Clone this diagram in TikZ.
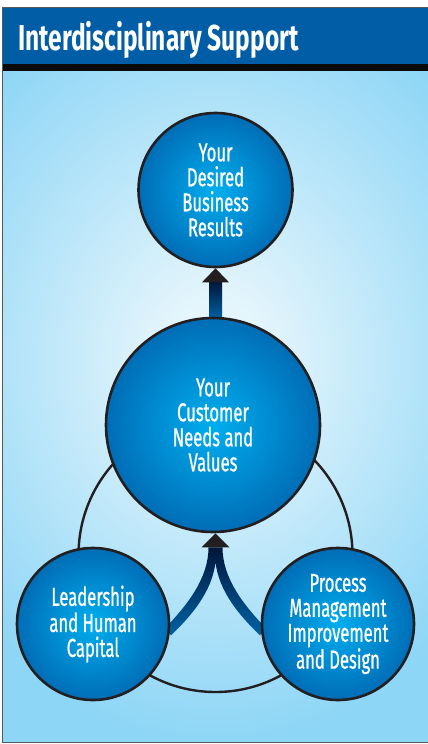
\documentclass[tikz,border=0pt]{standalone}
\usepackage{fontspec}
\newfontfamily\headfont[FakeStretch=0.68]{Fira Sans}
\newfontfamily\circfont[FakeStretch=0.64,FakeBold=0.8]{Fira Sans}
\usetikzlibrary{calc}
\usetikzlibrary{backgrounds}

\definecolor{headblue}{HTML}{005DA6}
\definecolor{barblack}{HTML}{0A0A0A}
\definecolor{framec}{HTML}{55595C}
\definecolor{panelc}{HTML}{8ED6F6}
\definecolor{glowc}{HTML}{E4F5FC}
\definecolor{bubin}{HTML}{00AEEF}
\definecolor{bubout}{HTML}{006DB6}
\definecolor{edgec}{HTML}{231F20}
\definecolor{navy}{HTML}{00163B}
\definecolor{shaftblue}{HTML}{0062A4}

\pgfdeclareradialshading{glow}{\pgfpoint{0bp}{0bp}}{color(0bp)=(glowc); color(4bp)=(glowc); color(25bp)=(panelc); color(50bp)=(panelc)}

\begin{document}
\begin{tikzpicture}[x=1pt,y=-1pt,
    bubble/.style={circle, draw=edgec, line width=2.6pt, inner sep=0pt,
        inner color=bubin, outer color=bubout, text=white, align=center,
        font=\circfont\fontsize{26}{25}\selectfont},
    ring/.style={edgec, line width=2.4pt}]
\useasboundingbox (0,0) rectangle (428,744);

% centres, read off in pixels
\coordinate (r) at (215.5,190);
\coordinate (c) at (213,425);
\coordinate (l) at (93,624);
\coordinate (p) at (338,624);
\coordinate (o) at (215.5,555); % ring through l and p

\newcommand{\drawpanel}{
    \fill[panelc] (2,71) rectangle (428,742);
    \begin{scope}
    \clip (2,71) rectangle (428,742);
    \shade[shading=glow] (215,360) ellipse [x radius=320, y radius=380];
    \end{scope}
    \fill[headblue] (2,7) rectangle (428,64);
    \fill[barblack] (2,64) rectangle (428,71);
}

\newcommand{\drawframe}{
    \draw[framec, line width=1.2pt] (430,742.4) -- (2.6,742.4) -- (2.6,7.6) -- (430,7.6);
}

\newcommand{\drawcircles}{
    \node[bubble, minimum size=154pt] (res) at (r) {Your\\Desired\\Business\\Results};
    \node[bubble, minimum size=214pt] (cust) at (c) {Your\\Customer\\Needs and\\Values};
    \node[bubble, minimum size=152pt] (lead) at (l) {Leadership\\and Human\\Capital};
    \node[bubble, minimum size=152pt] (proc) at (p) {Process\\Management\\Improvement\\and Design};
}

\newcommand{\drawarrows}{
    % up to the results
    \shade[top color=navy, bottom color=shaftblue]
        ($(res.south)+(-6.5,13.5)$) rectangle ($(res.south |- cust.north)+(6.5,2)$);
    \fill[edgec] (res.south) -- ++(-13.5,14) -- ++(27,0) -- cycle;
    % two arms meeting under the customer
    \coordinate (tip) at (res.south |- cust.south);
    \coordinate (hb) at ($(tip)+(0,14)$);
    \shade[top color=navy, bottom color=shaftblue]
        ($(hb)+(-50.5,81)$) .. controls ($(hb)+(-29.5,59)$) and ($(hb)+(-7,32)$) .. ($(hb)+(-7,0)$)
        -- ($(hb)+(7,0)$) .. controls ($(hb)+(7,32)$) and ($(hb)+(29.5,59)$) .. ($(hb)+(50.5,81)$)
        -- ($(hb)+(44.5,88)$) .. controls ($(hb)+(23.5,68)$) and ($(hb)+(3.5,44)$) .. ($(hb)+(0,15)$)
        .. controls ($(hb)+(-3.5,44)$) and ($(hb)+(-23.5,68)$) .. ($(hb)+(-44.5,88)$) -- cycle;
    \fill[edgec] (tip) -- ++(-14,14) -- ++(28,0) -- cycle;
}

\drawcircles
\node[anchor=base west, inner sep=0pt, text=white,
    font=\headfont\bfseries\fontsize{36}{36}\selectfont] (title) at (18,50) {Interdisciplinary Support};

\begin{pgfonlayer}{background}
    \drawpanel
    \draw[ring] (o) circle[radius=137];
    \drawarrows
\end{pgfonlayer}
\drawframe
\end{tikzpicture}
\end{document}
